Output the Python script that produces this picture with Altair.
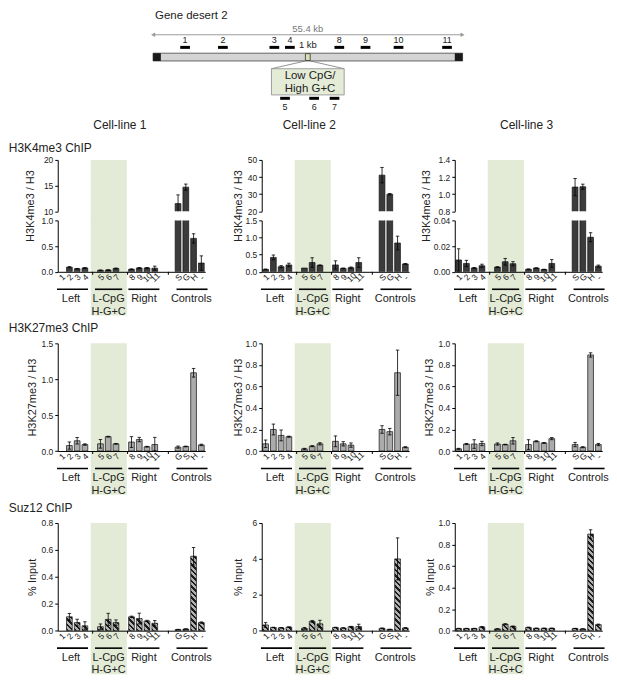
import altair as alt
import pandas as pd

FONT = "Liberation Sans"
SX, SY = 0.975, 0.975


def px(v):
    return round(v * SX, 2)


def py(v):
    return round(v * SY, 2)


# ---------------- data ----------------
probe_labels = ["1", "2", "3", "4", "5", "6", "7", "8", "9", "10", "11"]
probe_slots = [0, 1, 2, 3, 5, 6, 7, 9, 10, 11, 12]
control_slots = [15, 16, 17, 18]
ctrl_SGH = ["S", "G", "H", "-"]
ctrl_GSH = ["G", "S", "H", "-"]

groups = ["Left", "L-CpG", "Right", "Controls"]
group_x1 = [-0.6, 4.3, 8.6, 14.8]
group_x2 = [3.4, 7.8, 12.6, 18.8]
group_lab_x = [1.2, 6.05, 10.6, 16.7]
boundary_ticks = [4, 8.5, 13.75]
band_x = [3.75, 8.4]

cell_lines = ["Cell-line 1", "Cell-line 2", "Cell-line 3"]
row_titles = ["H3K4me3 ChIP", "H3K27me3 ChIP", "Suz12 ChIP"]
y_titles = ["H3K4me3 / H3", "H3K27me3 / H3", "% Input"]

# H3K4me3 / H3  (probes 1-11, then controls)
k4_vals = [
    [0.0, 0.09, 0.06, 0.075, 0.03, 0.035, 0.065, 0.05, 0.075, 0.075, 0.07, 11.5, 14.7, 0.65, 0.17],
    [0.07, 0.42, 0.15, 0.20, 0.11, 0.27, 0.19, 0.20, 0.10, 0.12, 0.27, 41.1, 30.0, 0.84, 0.23],
    [0.0092, 0.0065, 0.003, 0.0047, 0.0037, 0.0078, 0.0063, 0.002, 0.0029, 0.0018, 0.0065, 1.083, 1.087, 0.0269, 0.0044],
]
k4_errs = [
    [0.0, 0.01, 0.005, 0.008, 0.004, 0.005, 0.008, 0.006, 0.008, 0.008, 0.04, 1.7, 0.6, 0.09, 0.14],
    [0.01, 0.07, 0.03, 0.05, 0.0, 0.14, 0.01, 0.12, 0.01, 0.02, 0.14, 4.5, 0.4, 0.2, 0.01],
    [0.0087, 0.0024, 0.0003, 0.0012, 0.0002, 0.0026, 0.0016, 0.0002, 0.0002, 0.0002, 0.003, 0.1, 0.03, 0.0035, 0.0008],
]
k4_top_dom = [[10, 20], [20, 50], [0.8, 1.4]]
k4_top_ticks = [[10, 15, 20], [20, 30, 40, 50], [0.8, 1.0, 1.2, 1.4]]
k4_top_fmt = ["d", "d", ".1f"]
k4_bot_dom = [[0, 1], [0, 1.5], [0, 0.04]]
k4_bot_ticks = [[0, 0.5, 1.0], [0, 0.5, 1.0, 1.5], [0, 0.02, 0.04]]
k4_bot_fmt = [".1f", ".1f", ".2f"]

# H3K27me3 / H3
k27_vals = [
    [0.0, 0.076, 0.143, 0.09, 0.10, 0.20, 0.10, 0.125, 0.16, 0.06, 0.09, 0.054, 0.063, 1.09, 0.085],
    [0.067, 0.20, 0.145, 0.133, 0.02, 0.045, 0.067, 0.09, 0.067, 0.055, 0.0, 0.20, 0.18, 0.727, 0.035],
    [0.02, 0.065, 0.065, 0.07, 0.065, 0.06, 0.095, 0.06, 0.09, 0.075, 0.115, 0.06, 0.035, 0.892, 0.06],
]
k27_errs = [
    [0.0, 0.05, 0.045, 0.01, 0.06, 0.005, 0.005, 0.075, 0.03, 0.005, 0.10, 0.015, 0.005, 0.06, 0.01],
    [0.035, 0.05, 0.05, 0.005, 0.005, 0.005, 0.01, 0.05, 0.02, 0.02, 0.0, 0.035, 0.03, 0.21, 0.005],
    [0.005, 0.005, 0.04, 0.02, 0.01, 0.003, 0.03, 0.045, 0.005, 0.004, 0.01, 0.02, 0.005, 0.02, 0.01],
]
k27_dom = [[0, 1.5], [0, 1.0], [0, 1.0]]
k27_ticks = [[0, 0.5, 1.0, 1.5], [0, 0.2, 0.4, 0.6, 0.8, 1.0], [0, 0.2, 0.4, 0.6, 0.8, 1.0]]
k27_fmt = [".1f", ".1f", ".1f"]

# Suz12 % input
suz_vals = [
    [0.0, 0.103, 0.06, 0.036, 0.03, 0.084, 0.06, 0.103, 0.09, 0.072, 0.055, 0.008, 0.012, 0.553, 0.06],
    [0.32, 0.18, 0.16, 0.20, 0.13, 0.52, 0.38, 0.18, 0.15, 0.22, 0.23, 0.13, 0.07, 4.0, 0.15],
    [0.02, 0.02, 0.02, 0.035, 0.016, 0.06, 0.04, 0.03, 0.022, 0.022, 0.022, 0.02, 0.016, 0.897, 0.056],
]
suz_errs = [
    [0.0, 0.025, 0.025, 0.03, 0.02, 0.045, 0.02, 0.005, 0.04, 0.005, 0.02, 0.002, 0.002, 0.065, 0.005],
    [0.13, 0.01, 0.01, 0.01, 0.05, 0.05, 0.2, 0.01, 0.01, 0.02, 0.13, 0.02, 0.01, 1.17, 0.02],
    [0.002, 0.002, 0.002, 0.003, 0.002, 0.005, 0.003, 0.003, 0.002, 0.002, 0.002, 0.002, 0.002, 0.04, 0.005],
]
suz_dom = [[0, 0.8], [0, 6], [0, 1.0]]
suz_ticks = [[0, 0.2, 0.4, 0.6, 0.8], [0, 2, 4, 6], [0, 0.2, 0.4, 0.6, 0.8, 1.0]]
suz_fmt = [".1f", "d", ".1f"]

ctrl_order = [
    [ctrl_SGH, ctrl_SGH, ctrl_SGH],
    [ctrl_GSH, ctrl_SGH, ctrl_SGH],
    [ctrl_GSH, ctrl_GSH, ctrl_SGH],
]

# schematic of gene desert 2 (kb along the 55.4 kb region)
gene_kb = 55.4
main_probe_labels = ["1", "2", "3", "4", "8", "9", "10", "11"]
main_probe_kb = [5.73, 12.50, 21.71, 24.49, 33.34, 38.03, 43.94, 52.62]
region_kb = [27.27, 28.13]
inset_kb = [21.19, 34.21]
inset_probe_labels = ["5", "6", "7"]
inset_probe_kb = [23.62, 28.83, 32.48]

# ---------------- style / layout ----------------
SLOT = 8 * SX
PW = round(19 * SLOT, 2)
GAP12 = px(57)
GAP23 = px(46)
H1T, G1, H1B = py(53), py(9), py(53)
H2, H3 = py(111), py(111)
ROWGAP = py(73)
BAND_EXT = py(45)
BAR_HALF = 0.37
CAP_HALF = 0.22
DARK_FILL = "#3b3b3b"
LIGHT_FILL = "#ababab"
STROKE = "#111111"
BAND = "#e3ebd6"
TXT = "#222222"
HATCH_GRAY = "#b2b2b2"
HATCH_BLACK = "#1c1c1c"

XSCALE = alt.Scale(domain=[-0.5, 18.5], nice=False, zero=False)

ttl_x = [[-28, -24, -29], [-26, -23.5, -26.5], [-26, -23.5, -25]]
cell_dx = [64, 49, 74]
P2_ORIGIN = (261, 153)  # reference px of the middle top panel's plot origin


def x_axis(ctrl):
    labs = [""] * 19
    for s, l in zip(probe_slots + control_slots, probe_labels + ctrl):
        labs[s] = l
    expr = "[" + ",".join("'%s'" % l for l in labs) + "][datum.value]"
    return alt.Axis(values=probe_slots + control_slots, labelExpr=expr, ticks=False,
                    domainColor="black", domainWidth=1, labelAngle=315, labelAlign="center",
                    labelBaseline="middle", labelPadding=5, labelFontSize=8.5, labelFont=FONT,
                    labelColor=TXT, grid=False, zindex=1, labelOverlap=False, labelFlush=False)


def y_axis(ticks, fmt, title, tx, ty):
    kw = dict(values=ticks, format=fmt, tickSize=3, tickWidth=1, tickColor="black",
              domainColor="black", domainWidth=1, labelFontSize=8.5, labelFont=FONT,
              labelColor=TXT, labelPadding=2, grid=False, zindex=1, labelFlush=False)
    if title:
        kw.update(titleX=tx, titleY=ty, titleAngle=270, titleAlign="center",
                  titleBaseline="middle", titleFont=FONT, titleFontSize=11,
                  titleFontWeight="normal", titleColor=TXT)
    return alt.Axis(**kw)


def text_layer(text, x, y, size, align="left", color=TXT):
    return alt.Chart(pd.DataFrame({"t": [text]})).mark_text(
        font=FONT, fontSize=size, align=align, baseline="middle", color=color
    ).encode(x=alt.value(x), y=alt.value(y), text="t:N")


def hatch(w, h, period=5.5, duty=0.45):
    L = w + h
    k = L / (w * w + h * h)
    n = max(1.0, L / period)
    step = 1.0 / n
    stops = []
    t = 0.0
    while t < 1.0 - 1e-9:
        a = t
        b = min(t + step * duty, 1.0)
        c = min(t + step, 1.0)
        stops += [(a, HATCH_BLACK), (b, HATCH_BLACK), (b, HATCH_GRAY), (c, HATCH_GRAY)]
        t += step
    return alt.LinearGradient(
        gradient="linear",
        stops=[alt.GradientStop(offset=round(o, 5), color=col) for o, col in stops],
        x1=0, y1=1, x2=round(k * w, 5), y2=round(1 - k * h, 5))


def panel_layers(vals, errs, ctrl, ydom, yticks, yfmt, H, style, ytitle, tx, ty,
                 show_x, band_y2):
    slots = probe_slots + control_slots
    df = pd.DataFrame({"slot": slots, "label": probe_labels + ctrl, "v": vals, "e": errs})
    df["xl"] = df.slot - BAR_HALF
    df["xr"] = df.slot + BAR_HALF
    df["base"] = 0.0
    df["lo"] = (df.v - df.e).clip(lower=0)
    df["hi"] = df.v + df.e
    df["cl"] = df.slot - CAP_HALF
    df["cr"] = df.slot + CAP_HALF
    bdf = df[df.v > 0]
    edf = df[df.e > 0]

    xax = x_axis(ctrl) if show_x else None
    yax = y_axis(yticks, yfmt, ytitle, tx, ty)
    yscale = alt.Scale(domain=ydom, nice=False, zero=False)

    def X(f):
        return alt.X(f, type="quantitative", scale=XSCALE, axis=xax, title=None)

    def Y(f):
        return alt.Y(f, type="quantitative", scale=yscale, axis=yax, title=ytitle)

    layers = []
    band_df = pd.DataFrame({"x": [band_x[0]], "x2": [band_x[1]]})
    layers.append(alt.Chart(band_df).mark_rect(color=BAND).encode(
        x=X("x"), x2="x2", y=alt.value(0), y2=alt.value(band_y2)))

    if style == "hatch":
        w = 2 * BAR_HALF * SLOT
        for _, r in bdf.iterrows():
            h = max(1.0, r.v / ydom[1] * H)
            one = pd.DataFrame([r])
            layers.append(alt.Chart(one).mark_rect(
                clip=True, fill=hatch(w, h), stroke=STROKE, strokeWidth=0.7
            ).encode(x=X("xl"), x2="xr", y=Y("v"), y2="base"))
    else:
        fill = DARK_FILL if style == "dark" else LIGHT_FILL
        layers.append(alt.Chart(bdf).mark_rect(
            clip=True, fill=fill, stroke=STROKE, strokeWidth=0.7
        ).encode(x=X("xl"), x2="xr", y=Y("v"), y2="base"))

    layers.append(alt.Chart(edf).mark_rule(clip=True, color="black", strokeWidth=0.8).encode(
        x=X("slot"), y=Y("lo"), y2="hi"))
    layers.append(alt.Chart(edf).mark_rule(clip=True, color="black", strokeWidth=0.8).encode(
        x=X("cl"), x2="cr", y=Y("hi")))
    layers.append(alt.Chart(edf).mark_rule(clip=True, color="black", strokeWidth=0.8).encode(
        x=X("cl"), x2="cr", y=Y("lo")))

    if show_x:
        gdf = pd.DataFrame({"x1": group_x1, "x2": group_x2, "xl": group_lab_x, "g": groups})
        layers.append(alt.Chart(gdf).mark_rule(color="black", strokeWidth=1.6).encode(
            x=X("x1"), x2="x2", y=alt.value(H + py(18))))
        layers.append(alt.Chart(gdf).mark_text(font=FONT, fontSize=11, baseline="middle",
                                               color=TXT).encode(
            x=X("xl"), y=alt.value(H + py(28)), text="g:N"))
        hdf = pd.DataFrame({"xl": [group_lab_x[1]], "g": ["H-G+C"]})
        layers.append(alt.Chart(hdf).mark_text(font=FONT, fontSize=11, baseline="middle",
                                               color=TXT).encode(
            x=X("xl"), y=alt.value(H + py(41)), text="g:N"))
        tdf = pd.DataFrame({"t": boundary_ticks})
        layers.append(alt.Chart(tdf).mark_rule(color="black", strokeWidth=1).encode(
            x=X("t"), y=alt.value(H), y2=alt.value(H + 3)))
    return layers


def spacer(w, h):
    return alt.Chart(pd.DataFrame({"a": [0]})).mark_point(opacity=0).encode(
        x=alt.X("a:Q", axis=None), y=alt.Y("a:Q", axis=None)).properties(width=w, height=h)


# ----- schematic, drawn above the middle panel with its own kb scale -----
GENE_L, GENE_W = 149.0, 319.0  # reference px of the gene bar start and its length


def kb_at(p):
    return (p - GENE_L) / GENE_W * gene_kb


DSCALE = alt.Scale(domain=[kb_at(P2_ORIGIN[0]), kb_at(P2_ORIGIN[0] + 152)], nice=False, zero=False)


def DX(f):
    return alt.X(f, type="quantitative", scale=DSCALE, axis=None)


def dy(ref_y):
    return py(ref_y - P2_ORIGIN[1])


cap_kb = 8 / GENE_W * gene_kb
probe_half = 5 / GENE_W * gene_kb
gene_df = pd.DataFrame({"a": [0.0], "b": [gene_kb], "m": [gene_kb / 2]})
caps_df = pd.DataFrame({"a": [0.0, gene_kb - cap_kb], "b": [cap_kb, gene_kb]})
mp = pd.DataFrame({"kb": main_probe_kb, "lab": main_probe_labels})
mp["a"] = mp.kb - probe_half
mp["b"] = mp.kb + probe_half
ip = pd.DataFrame({"kb": inset_probe_kb, "lab": inset_probe_labels})
ip["a"] = ip.kb - probe_half
ip["b"] = ip.kb + probe_half
reg_df = pd.DataFrame({"a": [region_kb[0]], "b": [region_kb[1]], "m": [sum(region_kb) / 2]})
ins_df = pd.DataFrame({"a": [inset_kb[0]], "b": [inset_kb[1]], "m": [sum(inset_kb) / 2 + 0.4]})
zoom_df = pd.DataFrame({"a": [region_kb[0], region_kb[1]], "b": [inset_kb[0], inset_kb[1]]})
ARROW = "#9a9a9a"

diag_layers = [
    text_layer("Gene desert 2", px(151 - P2_ORIGIN[0]), dy(5), 11.5),
    alt.Chart(gene_df).mark_rule(color=ARROW, strokeWidth=1).encode(
        x=DX("a"), x2="b", y=alt.value(dy(24))),
    alt.Chart(gene_df).mark_point(shape="triangle-left", filled=True, color=ARROW, size=22,
                                  opacity=1).encode(x=DX("a"), y=alt.value(dy(24))),
    alt.Chart(gene_df).mark_point(shape="triangle-right", filled=True, color=ARROW, size=22,
                                  opacity=1).encode(x=DX("b"), y=alt.value(dy(24))),
    alt.Chart(gene_df).mark_text(font=FONT, fontSize=9.5, color="#777777", baseline="middle").encode(
        x=DX("m"), y=alt.value(dy(18)), text=alt.value("55.4 kb")),
    alt.Chart(mp).mark_rule(color="black", strokeWidth=3).encode(
        x=DX("a"), x2="b", y=alt.value(dy(37))),
    alt.Chart(mp).mark_text(font=FONT, fontSize=9, color=TXT, baseline="middle").encode(
        x=DX("kb"), y=alt.value(dy(29.5)), text="lab:N"),
    alt.Chart(gene_df).mark_rect(fill="#d4d4d4", stroke="#444444", strokeWidth=0.8).encode(
        x=DX("a"), x2="b", y=alt.value(dy(43)), y2=alt.value(dy(51))),
    alt.Chart(caps_df).mark_rect(fill="#1a1a1a").encode(
        x=DX("a"), x2="b", y=alt.value(dy(43)), y2=alt.value(dy(51))),
    alt.Chart(reg_df).mark_rect(fill="#d6e2b4", stroke="#333333", strokeWidth=0.8).encode(
        x=DX("a"), x2="b", y=alt.value(dy(43.5)), y2=alt.value(dy(50.5))),
    alt.Chart(reg_df).mark_text(font=FONT, fontSize=9.5, color=TXT, baseline="middle").encode(
        x=DX("m"), y=alt.value(dy(35)), text=alt.value("1 kb")),
    alt.Chart(zoom_df).mark_rule(color="#777777", strokeWidth=0.8).encode(
        x=DX("a"), x2="b", y=alt.value(dy(51)), y2=alt.value(dy(59))),
    alt.Chart(ins_df).mark_rect(fill="#e4ecd8", stroke="#8a8a8a", strokeWidth=0.8).encode(
        x=DX("a"), x2="b", y=alt.value(dy(59)), y2=alt.value(dy(86))),
    alt.Chart(ins_df).mark_text(font=FONT, fontSize=11.5, color=TXT, baseline="middle").encode(
        x=DX("m"), y=alt.value(dy(67)), text=alt.value("Low CpG/")),
    alt.Chart(ins_df).mark_text(font=FONT, fontSize=11.5, color=TXT, baseline="middle").encode(
        x=DX("m"), y=alt.value(dy(80)), text=alt.value("High G+C")),
    alt.Chart(ip).mark_rule(color="black", strokeWidth=3).encode(
        x=DX("a"), x2="b", y=alt.value(dy(89.5))),
    alt.Chart(ip).mark_text(font=FONT, fontSize=9, color=TXT, baseline="middle").encode(
        x=DX("kb"), y=alt.value(dy(98.5)), text="lab:N"),
]

# ----- grid cells (5 columns: panel, gap, panel, gap, panel) -----
cells = []
col_w = [PW, GAP12, PW, GAP23, PW]


def add_spacer_row(h):
    for w in col_w:
        cells.append(spacer(w, h))


# row 1 top segments (band continues through the axis break)
row1_top = []
for c in range(3):
    lay = panel_layers(k4_vals[c], k4_errs[c], ctrl_order[0][c], k4_top_dom[c], k4_top_ticks[c],
                       k4_top_fmt[c], H1T, "dark", y_titles[0], px(ttl_x[0][c]), py(47),
                       False, H1T + G1 + 1.5)
    lay.append(text_layer(cell_lines[c], px(cell_dx[c]), py(-36), 12, align="center"))
    if c == 0:
        lay.append(text_layer(row_titles[0], -px(50.5), py(-12), 12))
    main = alt.layer(*lay)
    if c == 1:
        ch = alt.layer(main, alt.layer(*diag_layers)).resolve_scale(x="independent")
    else:
        ch = main
    row1_top.append(ch.properties(width=PW, height=H1T))

cells += [row1_top[0], spacer(GAP12, H1T), row1_top[1], spacer(GAP23, H1T), row1_top[2]]

# row 1 bottom segments
row1_bot = []
for c in range(3):
    lay = panel_layers(k4_vals[c], k4_errs[c], ctrl_order[0][c], k4_bot_dom[c], k4_bot_ticks[c],
                       k4_bot_fmt[c], H1B, "dark", None, 0, 0, True, H1B + BAND_EXT)
    row1_bot.append(alt.layer(*lay).properties(width=PW, height=H1B))
cells += [row1_bot[0], spacer(GAP12, H1B), row1_bot[1], spacer(GAP23, H1B), row1_bot[2]]

add_spacer_row(ROWGAP - 2 * G1)


def simple_row(r, vals, errs, doms, ticks, fmts, H, style, title_dy):
    ps = []
    for c in range(3):
        lay = panel_layers(vals[c], errs[c], ctrl_order[r][c], doms[c], ticks[c], fmts[c], H,
                           style, y_titles[r], px(ttl_x[r][c]), H / 2, True, H + BAND_EXT)
        if c == 0:
            lay.append(text_layer(row_titles[r], -px(50.5), py(title_dy), 12))
        ps.append(alt.layer(*lay).properties(width=PW, height=H))
    return [ps[0], spacer(GAP12, H), ps[1], spacer(GAP23, H), ps[2]]


cells += simple_row(1, k27_vals, k27_errs, k27_dom, k27_ticks, k27_fmt, H2, "light", -16)
add_spacer_row(ROWGAP - 2 * G1)
cells += simple_row(2, suz_vals, suz_errs, suz_dom, suz_ticks, suz_fmt, H3, "hatch", -15)

chart = alt.concat(*cells, columns=5, spacing=alt.RowColnumber(row=G1, column=0),
                   bounds="flush").properties(
    padding=0, background="white"
).configure_view(strokeWidth=0)

chart.save("out.html", embed_options={"renderer": "svg", "actions": False})
